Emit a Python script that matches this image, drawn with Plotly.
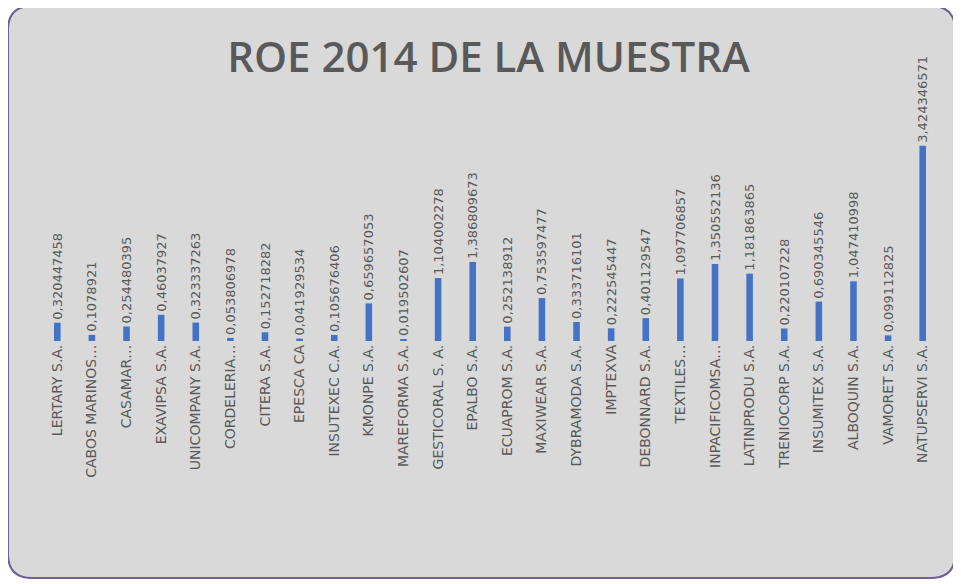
import plotly.graph_objects as go

# ROE 2014 per company (reading from the picture)
empresas = [
    "LERTARY S.A.", "CABOS MARINOS…", "CASAMAR…", "EXAVIPSA S.A.", "UNICOMPANY S.A.",
    "CORDELERIA…", "CITERA S.A.", "EPESCA CA", "INSUTEXEC C.A.", "KMONPE S.A.",
    "MAREFORMA S.A.", "GESTICORAL S. A.", "EPALBO S.A.", "ECUAPROM S.A.", "MAXIWEAR S.A.",
    "DYBRAMODA S.A.", "IMPTEXVA", "DEBONNARD S.A.", "TEXTILES…", "INPACIFICOMSA…",
    "LATINPRODU S.A.", "TRENIOCORP S.A.", "INSUMITEX S.A.", "ALBOQUIN S.A.", "VAMORET S.A.",
    "NATUPSERVI S.A.",
]
roe_2014 = [
    0.320447458, 0.1078921, 0.254480395, 0.46037927, 0.323337263,
    0.053806978, 0.152718282, 0.041929534, 0.105676406, 0.659657053,
    0.019502607, 1.104002278, 1.386809673, 0.252138912, 0.753597477,
    0.333716101, 0.222545447, 0.401129547, 1.097706857, 1.350552136,
    1.181863865, 0.220107228, 0.690345546, 1.047410998, 0.099112825,
    3.424346571,
]

# page has an 8px body margin, so figure coords = screen coords - 8
W, H = 961, 584
ML, MR, MT, MB = 32, 29, 105, 251
PW, PH = W - ML - MR, H - MT - MB

gris = "#595959"


def px(x):
    return (x - ML) / PW


def py(y):
    return (H - MB - y) / PH


def rounded_rect(x0, y0, x1, y1, r):
    pts = [
        ("M", [(x0 + r, y0)]),
        ("L", [(x1 - r, y0)]),
        ("Q", [(x1, y0), (x1, y0 + r)]),
        ("L", [(x1, y1 - r)]),
        ("Q", [(x1, y1), (x1 - r, y1)]),
        ("L", [(x0 + r, y1)]),
        ("Q", [(x0, y1), (x0, y1 - r)]),
        ("L", [(x0, y0 + r)]),
        ("Q", [(x0, y0), (x0 + r, y0)]),
    ]
    out = ""
    for cmd, pp in pts:
        out += cmd + " " + " ".join(f"{px(a):.5f},{py(b):.5f}" for a, b in pp) + " "
    return out + "Z"


fig = go.Figure()
fig.add_trace(go.Bar(
    x=empresas,
    y=roe_2014,
    marker=dict(color="#4472C4", line=dict(width=0)),
    text=[f"{v}".replace(".", ",") for v in roe_2014],
    textposition="outside",
    textangle=-90,
    constraintext="none",
    cliponaxis=False,
    textfont=dict(family="DejaVu Sans", size=13, color=gris),
    showlegend=False,
))

# grey chart area with the rounded purple frame
fig.add_shape(
    type="path",
    path=rounded_rect(0, -2, 947, 570, 24),
    xref="paper", yref="paper",
    fillcolor="#d9d9d9",
    line=dict(color="#6f5f94", width=2),
    layer="below",
)

fig.update_layout(
    width=W, height=H,
    margin=dict(l=ML, r=MR, t=MT, b=MB, autoexpand=False),
    paper_bgcolor="white",
    plot_bgcolor="rgba(0,0,0,0)",
    bargap=0.81,
    title=dict(
        text="ROE 2014 DE LA MUESTRA",
        x=0.5, xanchor="center",
        y=1 - 49 / H, yanchor="middle",
        font=dict(family="Open Sans", size=42, weight=600, color=gris),
    ),
    xaxis=dict(
        tickangle=-90,
        tickfont=dict(family="DejaVu Sans", size=14, color=gris),
        showgrid=False,
        showline=False,
        ticks="",
        automargin=False,
        fixedrange=True,
    ),
    yaxis=dict(
        range=[0, 4.0],
        visible=False,
        showgrid=False,
        zeroline=False,
        automargin=False,
    ),
)

fig.write_html("out.html")
